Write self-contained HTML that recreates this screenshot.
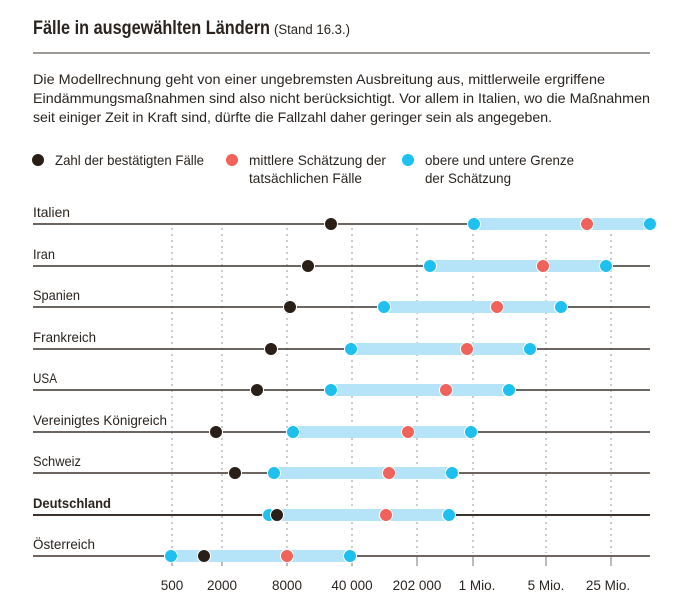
<!DOCTYPE html>
<html><head><meta charset="utf-8"><style>
body{margin:0;background:#fff;width:673px;height:606px;overflow:hidden}
</style></head><body>
<svg width="673" height="606" xmlns="http://www.w3.org/2000/svg" font-family="Liberation Sans, sans-serif" fill="#2a2420">
<text x="33" y="34" font-size="19" font-weight="bold" textLength="237" lengthAdjust="spacingAndGlyphs">Fälle in ausgewählten Ländern</text>
<text x="274" y="34" font-size="13.5" textLength="76" lengthAdjust="spacingAndGlyphs">(Stand 16.3.)</text>
<line x1="33" y1="53" x2="650" y2="53" stroke="#3a332e" stroke-width="1"/>
<g font-size="14" lengthAdjust="spacingAndGlyphs">
<text x="33" y="84" textLength="572" lengthAdjust="spacingAndGlyphs">Die Modellrechnung geht von einer ungebremsten Ausbreitung aus, mittlerweile ergriffene</text>
<text x="33" y="103" textLength="617" lengthAdjust="spacingAndGlyphs">Eindämmungsmaßnahmen sind also nicht berücksichtigt. Vor allem in Italien, wo die Maßnahmen</text>
<text x="33" y="122" textLength="519" lengthAdjust="spacingAndGlyphs">seit einiger Zeit in Kraft sind, dürfte die Fallzahl daher geringer sein als angegeben.</text>
</g>
<g font-size="14">
<circle cx="38" cy="160" r="6" fill="#2a1f16"/><text x="55" y="165" textLength="149" lengthAdjust="spacingAndGlyphs">Zahl der bestätigten Fälle</text>
<circle cx="232" cy="160" r="6" fill="#f0625a"/><text x="249" y="165" textLength="137" lengthAdjust="spacingAndGlyphs">mittlere Schätzung der</text><text x="249" y="183" textLength="113" lengthAdjust="spacingAndGlyphs">tatsächlichen Fälle</text>
<circle cx="408" cy="160" r="6" fill="#1ec0ef"/><text x="425" y="165" textLength="149" lengthAdjust="spacingAndGlyphs">obere und untere Grenze</text><text x="425" y="183" textLength="86" lengthAdjust="spacingAndGlyphs">der Schätzung</text>
</g>
<g stroke="#999" stroke-width="1" stroke-dasharray="2,4">
<line x1="172" y1="228" x2="172" y2="553"/><line x1="222" y1="228" x2="222" y2="553"/><line x1="287" y1="228" x2="287" y2="553"/><line x1="352" y1="228" x2="352" y2="553"/><line x1="417" y1="228" x2="417" y2="553"/><line x1="473" y1="228" x2="473" y2="553"/><line x1="546" y1="228" x2="546" y2="553"/><line x1="611" y1="228" x2="611" y2="553"/>
</g>
<g stroke="#777" stroke-width="1">
<line x1="172" y1="557" x2="172" y2="566"/><line x1="222" y1="557" x2="222" y2="566"/><line x1="287" y1="557" x2="287" y2="566"/><line x1="352" y1="557" x2="352" y2="566"/><line x1="417" y1="557" x2="417" y2="566"/><line x1="473" y1="557" x2="473" y2="566"/><line x1="546" y1="557" x2="546" y2="566"/><line x1="611" y1="557" x2="611" y2="566"/>
</g>
<g font-size="13.5" text-anchor="middle">
<text x="172" y="590">500</text><text x="222" y="590">2000</text><text x="287" y="590">8000</text><text x="352" y="590">40 000</text><text x="417" y="590">202 000</text><text x="477" y="590">1 Mio.</text><text x="546" y="590">5 Mio.</text><text x="608" y="590">25 Mio.</text>
</g>
<g font-size="14" lengthAdjust="spacingAndGlyphs">
<text x="33" y="217" textLength="37" lengthAdjust="spacingAndGlyphs">Italien</text>
<text x="33" y="259" textLength="22" lengthAdjust="spacingAndGlyphs">Iran</text>
<text x="33" y="300" textLength="47" lengthAdjust="spacingAndGlyphs">Spanien</text>
<text x="33" y="342" textLength="63" lengthAdjust="spacingAndGlyphs">Frankreich</text>
<text x="33" y="383" textLength="24" lengthAdjust="spacingAndGlyphs">USA</text>
<text x="33" y="425" textLength="134" lengthAdjust="spacingAndGlyphs">Vereinigtes Königreich</text>
<text x="33" y="466" textLength="48" lengthAdjust="spacingAndGlyphs">Schweiz</text>
<text x="33" y="508" font-weight="bold" textLength="78" lengthAdjust="spacingAndGlyphs">Deutschland</text>
<text x="33" y="549" textLength="62" lengthAdjust="spacingAndGlyphs">Österreich</text>
</g>
<g stroke="#3a332e" stroke-width="1.5">
<line x1="33" y1="224" x2="650" y2="224"/><line x1="33" y1="266" x2="650" y2="266"/><line x1="33" y1="307" x2="650" y2="307"/><line x1="33" y1="349" x2="650" y2="349"/><line x1="33" y1="390" x2="650" y2="390"/><line x1="33" y1="432" x2="650" y2="432"/><line x1="33" y1="473" x2="650" y2="473"/><line x1="33" y1="515" x2="650" y2="515" stroke-width="2"/><line x1="33" y1="556" x2="650" y2="556"/>
</g>
<g fill="#b5e4f8">
<rect x="474" y="218" width="176" height="12"/>
<rect x="430" y="260" width="176" height="12"/>
<rect x="384" y="301" width="177" height="12"/>
<rect x="351" y="343" width="179" height="12"/>
<rect x="331" y="384" width="178" height="12"/>
<rect x="293" y="426" width="178" height="12"/>
<rect x="274" y="467" width="178" height="12"/>
<rect x="269" y="509" width="180" height="12"/>
<rect x="171" y="550" width="179" height="12"/>
</g>
<g stroke="#fff" stroke-width="1">
<g fill="#1ec0ef">
<circle cx="474" cy="224" r="6.5"/><circle cx="650" cy="224" r="6.5"/>
<circle cx="430" cy="266" r="6.5"/><circle cx="606" cy="266" r="6.5"/>
<circle cx="384" cy="307" r="6.5"/><circle cx="561" cy="307" r="6.5"/>
<circle cx="351" cy="349" r="6.5"/><circle cx="530" cy="349" r="6.5"/>
<circle cx="331" cy="390" r="6.5"/><circle cx="509" cy="390" r="6.5"/>
<circle cx="293" cy="432" r="6.5"/><circle cx="471" cy="432" r="6.5"/>
<circle cx="274" cy="473" r="6.5"/><circle cx="452" cy="473" r="6.5"/>
<circle cx="269" cy="515" r="6.5"/><circle cx="449" cy="515" r="6.5"/>
<circle cx="171" cy="556" r="6.5"/><circle cx="350" cy="556" r="6.5"/>
</g>
<g fill="#f0625a">
<circle cx="587" cy="224" r="6.5"/><circle cx="543" cy="266" r="6.5"/><circle cx="497" cy="307" r="6.5"/><circle cx="467" cy="349" r="6.5"/><circle cx="446" cy="390" r="6.5"/><circle cx="408" cy="432" r="6.5"/><circle cx="389" cy="473" r="6.5"/><circle cx="386" cy="515" r="6.5"/><circle cx="287" cy="556" r="6.5"/>
</g>
<g fill="#2a1f16">
<circle cx="331" cy="224" r="6.5"/><circle cx="308" cy="266" r="6.5"/><circle cx="290" cy="307" r="6.5"/><circle cx="271" cy="349" r="6.5"/><circle cx="257" cy="390" r="6.5"/><circle cx="216" cy="432" r="6.5"/><circle cx="235" cy="473" r="6.5"/><circle cx="277" cy="515" r="6.5"/><circle cx="204" cy="556" r="6.5"/>
</g>
</g>
</svg>
</body></html>
